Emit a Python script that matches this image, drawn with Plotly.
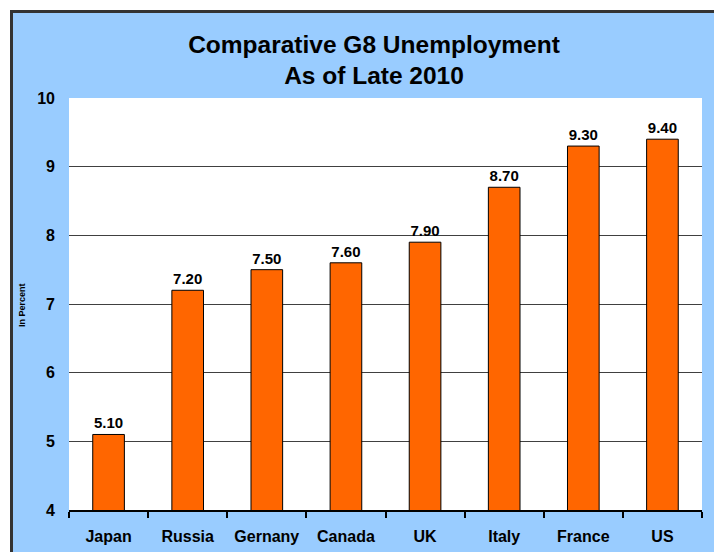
import plotly.graph_objects as go

countries = ["Japan", "Russia", "Gernany", "Canada", "UK", "Italy", "France", "US"]
unemployment = [5.10, 7.20, 7.50, 7.60, 7.90, 8.70, 9.30, 9.40]
y_ticks = [4, 5, 6, 7, 8, 9, 10]

FONT = "Arial, 'Liberation Sans', sans-serif"
W, H = 722, 552
OFF = 8  # page body margin offset
L, T = 69 - OFF, 98 - OFF
R = W - (702 - OFF)
B = H - (510 - OFF)
pw, ph = W - L - R, H - T - B

def px_x(p):
    return (p - OFF - L) / pw

def px_y(p):
    return (H - B - (p - OFF)) / ph

fig = go.Figure(go.Bar(
    x=countries,
    y=unemployment,
    marker=dict(color="#FF6600", line=dict(color="#000000", width=1)),
    width=0.4,
    texttemplate="<b>%{y:.2f}</b>",
    textposition="outside",
    textfont=dict(family=FONT, size=15, color="#000000"),
    cliponaxis=False,
))

fig.update_layout(
    width=W, height=H,
    margin=dict(l=L, r=R, t=T, b=B, autoexpand=False),
    paper_bgcolor="#FFFFFF",
    plot_bgcolor="rgba(0,0,0,0)",
    showlegend=False,
    font=dict(family=FONT, color="#000000"),
    title=dict(
        text="<b>Comparative G8 Unemployment<br>As of Late 2010</b>",
        font=dict(family=FONT, size=24.5, color="#000000"),
        x=(374 - OFF) / W, xref="container", xanchor="center",
        y=1 - 44.5 / H, yref="container", yanchor="middle",
        automargin=False,
    ),
    shapes=[
        dict(type="rect", xref="paper", yref="paper", layer="below",
             x0=px_x(11.5), x1=px_x(760), y0=px_y(11.5), y1=px_y(600),
             fillcolor="#99CCFF", line=dict(color="#333333", width=3)),
        dict(type="rect", xref="paper", yref="paper", layer="below",
             x0=0, x1=1, y0=0, y1=1,
             fillcolor="#FFFFFF", line=dict(width=0)),
    ],
    annotations=[
        dict(text="<b>In Percent</b>", xref="paper", yref="paper",
             x=px_x(22), y=px_y(305), xanchor="center", yanchor="middle",
             textangle=-90, showarrow=False,
             font=dict(family=FONT, size=9, color="#000000")),
    ],
)

fig.update_xaxes(
    type="category", automargin=False,
    showline=True, linecolor="#000000", linewidth=2,
    ticks="outside", tickson="boundaries", ticklen=6, tickwidth=1.5, tickcolor="#000000",
    tickfont=dict(family=FONT, size=16, color="#000000"),
    tickprefix="<b>", ticksuffix="</b>",
    ticklabelstandoff=11,
    showgrid=False,
)

fig.update_yaxes(
    range=[4, 10], automargin=False,
    tickvals=y_ticks,
    ticktext=[f"<b>{v}</b>" for v in y_ticks],
    tickfont=dict(family=FONT, size=16, color="#000000"),
    showgrid=True, gridcolor="#404040", gridwidth=1,
    showline=False, zeroline=False,
    ticks="", ticklabelstandoff=13,
)

fig.write_html("out.html")
